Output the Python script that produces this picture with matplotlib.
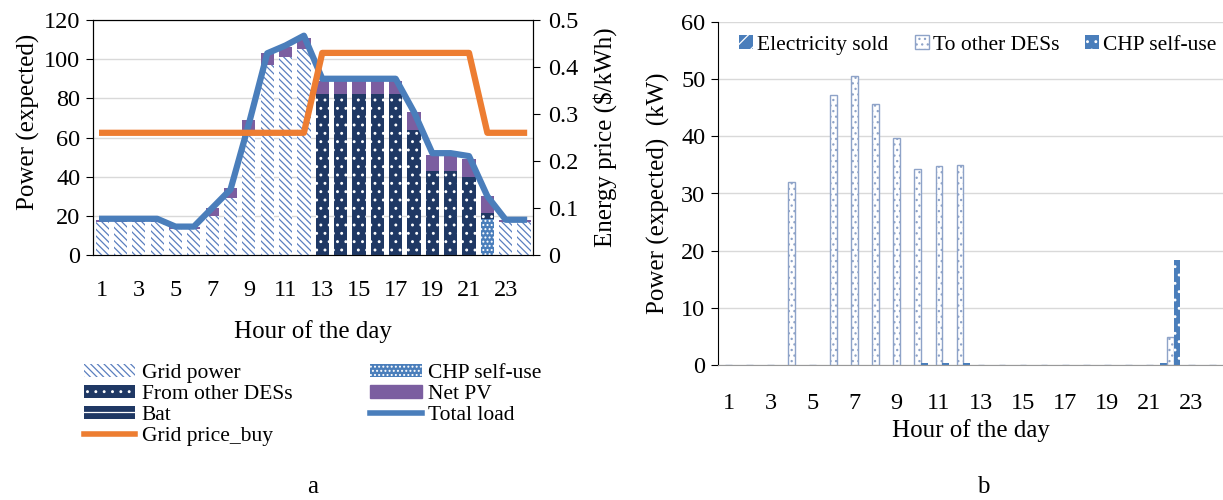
import numpy as np
import matplotlib.pyplot as plt
from matplotlib.patches import Patch
from matplotlib.lines import Line2D

plt.rcParams['font.family'] = ['Liberation Serif', 'DejaVu Serif']
plt.rcParams['hatch.linewidth'] = 0.9

hours = np.arange(1, 25)
tick_hours = [1, 3, 5, 7, 9, 11, 13, 15, 17, 19, 21, 23]

# --- panel a: expected power supply mix (kW) ---
grid_power = [17, 17, 17, 17, 13.5, 13.5, 20, 29, 62, 97, 101, 105,
              0, 0, 0, 0, 0, 0, 0, 0, 0, 0, 17, 17]
chp_self_a = [0, 0, 0, 0, 0, 0, 0, 0, 0, 0, 0, 0,
              0, 0, 0, 0, 0, 0, 0, 0, 0, 18.3, 0, 0]
from_des = [0, 0, 0, 0, 0, 0, 0, 0, 0, 0, 0, 0,
            82, 82, 82, 82, 82, 64, 43, 43, 40, 3, 0, 0]
net_pv = [1, 1, 1, 1, 1, 1, 4, 5, 7, 6, 5, 6,
          7, 7, 7, 7, 7, 9, 8, 8, 9, 8.7, 1, 1]
bat = [0] * 24
total_load = [18.5, 18.5, 18.5, 18.5, 14.5, 14.5, 24, 33.5, 67, 103, 107, 112,
              90, 90, 90, 90, 90, 73, 52, 52, 50.5, 30, 18, 18]
price_buy = [0.26, 0.26, 0.26, 0.26, 0.26, 0.26, 0.26, 0.26, 0.26, 0.26, 0.26, 0.26,
             0.43, 0.43, 0.43, 0.43, 0.43, 0.43, 0.43, 0.43, 0.43, 0.26, 0.26, 0.26]

# --- panel b: expected power output (kW) ---
elec_sold = [0, 0, 0, 0, 0, 0, 0, 0, 0, 0, 0, 0,
             0, 0, 0, 0, 0, 0, 0, 0, 0, 0.3, 0, 0]
to_other = [0, 0, 0, 32, 0, 47.3, 50.5, 45.6, 39.7, 34.2, 34.8, 35,
            0, 0, 0, 0, 0, 0, 0, 0, 0, 4.9, 0, 0]
chp_self_b = [0, 0, 0, 0, 0, 0, 0, 0, 0, 0.4, 0.4, 0.4,
              0, 0, 0, 0, 0, 0, 0, 0, 0, 18.3, 0, 0]

C_GRID = '#5a7fbf'
C_DES = '#1f3864'
C_CHP = '#4a7ebb'
C_PV = '#7b5ea0'
C_LOAD = '#4a7ebb'
C_PRICE = '#ed7d31'
GRIDC = '#d9d9d9'
TICK_FS = 17.5
LAB_FS = 18
LEG_FS = 15.5

fig = plt.figure(figsize=(12.23, 5), dpi=100)

# ---------------- panel a ----------------
ax = fig.add_axes([0.076, 0.49, 0.36, 0.47])
w = 0.72
bottom = np.zeros(24)
styles = [
    (grid_power, dict(facecolor='white', edgecolor=C_GRID, hatch='\\\\\\\\\\')),
    (chp_self_a, dict(facecolor=C_CHP, edgecolor='white', hatch='....')),
    (from_des, dict(facecolor=C_DES, edgecolor='white', hatch='..')),
    (net_pv, dict(facecolor=C_PV, edgecolor=C_PV)),
    (bat, dict(facecolor=C_DES, edgecolor='white', hatch='--')),
]
for vals, st in styles:
    vals = np.array(vals, dtype=float)
    ax.bar(hours, vals, w, bottom=bottom, linewidth=0, zorder=2, **st)
    bottom += vals
ax.plot(hours, total_load, color=C_LOAD, lw=4.5, zorder=3, solid_joinstyle='round')

ax.set_xlim(0.5, 24.5)
ax.set_ylim(0, 120)
ax.set_yticks(range(0, 121, 20))
ax.set_xticks(tick_hours)
ax.tick_params(axis='x', length=0, pad=18, labelsize=TICK_FS)
ax.tick_params(axis='y', direction='out', length=5, labelsize=TICK_FS, pad=4)
ax.yaxis.grid(True, color=GRIDC, lw=1, zorder=0)
ax.set_axisbelow(True)
ax.spines['bottom'].set_color('#999999')
ax.set_xlabel('Hour of the day', fontsize=LAB_FS, labelpad=14)

ax2 = ax.twinx()
ax2.plot(hours, price_buy, color=C_PRICE, lw=4.5, zorder=4)
ax2.set_ylim(0, 0.5)
ax2.set_yticks([0, 0.1, 0.2, 0.3, 0.4, 0.5])
ax2.set_yticklabels(['0', '0.1', '0.2', '0.3', '0.4', '0.5'])
ax2.tick_params(axis='y', direction='out', length=5, labelsize=TICK_FS, pad=6)
ax2.set_ylabel('Energy price ($/kWh)', fontsize=LAB_FS, labelpad=10)
fig.text(28 / 1223, 1 - 122 / 500, 'Power (expected)', rotation=90,
         fontsize=LAB_FS, ha='center', va='center')

handles = [
    Patch(facecolor='white', edgecolor=C_GRID, hatch='\\\\\\\\\\', lw=0, label='Grid power'),
    Patch(facecolor=C_DES, edgecolor='white', hatch='..', lw=0, label='From other DESs'),
    Patch(facecolor=C_DES, edgecolor='white', hatch='--', lw=0, label='Bat'),
    Line2D([], [], color=C_PRICE, lw=4, label='Grid price_buy'),
    Patch(facecolor=C_CHP, edgecolor='white', hatch='....', lw=0, label='CHP self-use'),
    Patch(facecolor=C_PV, edgecolor=C_PV, label='Net PV'),
    Line2D([], [], color=C_LOAD, lw=4, label='Total load'),
]
fig.legend(handles=handles, loc='upper left', bbox_to_anchor=(75 / 1223, 1 - 355 / 500),
           ncol=2, frameon=False, fontsize=LEG_FS, handlelength=2.4, handleheight=0.55,
           handletextpad=0.3, columnspacing=3.6, labelspacing=0.1, borderaxespad=0)

fig.text(313 / 1223, 1 - 487 / 500, 'a', fontsize=LAB_FS, ha='center', va='center')

# ---------------- panel b ----------------
bx = fig.add_axes([0.587, 0.27, 0.413, 0.686])
bw = 0.32
bx.bar(hours - bw, elec_sold, bw, facecolor=C_CHP, edgecolor='white', hatch='//',
       linewidth=0, zorder=2, label='Electricity sold')
bx.bar(hours, to_other, bw, facecolor='white', edgecolor='#8ea3c8', hatch='...',
       linewidth=1, zorder=2, label='To other DESs')
bx.bar(hours + bw, chp_self_b, bw, facecolor=C_CHP, edgecolor='white', hatch='..',
       linewidth=0, zorder=2, label='CHP self-use')

bx.set_xlim(0.5, 24.5)
bx.set_ylim(0, 60)
bx.set_yticks(range(0, 61, 10))
bx.set_xticks(tick_hours)
bx.tick_params(axis='x', length=0, pad=20, labelsize=TICK_FS)
bx.tick_params(axis='y', direction='out', length=5, labelsize=TICK_FS, pad=4)
bx.yaxis.grid(True, color=GRIDC, lw=1, zorder=0)
bx.set_axisbelow(True)
for s in ['top', 'right']:
    bx.spines[s].set_visible(False)
bx.spines['bottom'].set_color('#999999')
bx.set_xlabel('Hour of the day', fontsize=LAB_FS, labelpad=4)
bx.set_ylabel('Power (expected)  (kW)', fontsize=LAB_FS, labelpad=8)
bx.legend(loc='upper center', bbox_to_anchor=(0.515, 1.0), ncol=3, frameon=False,
          fontsize=LEG_FS, handlelength=0.65, handleheight=0.65, handletextpad=0.2,
          columnspacing=1.2, borderaxespad=0.2)

fig.text(983 / 1223, 1 - 487 / 500, 'b', fontsize=LAB_FS, ha='center', va='center')

fig.savefig('out.png', dpi=100)
